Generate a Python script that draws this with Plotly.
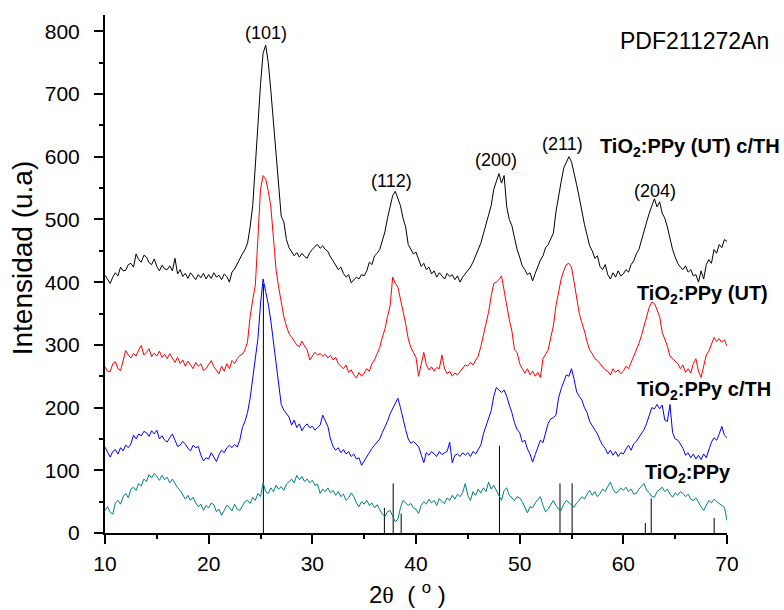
import numpy as np
import plotly.graph_objects as go

# 2-theta grid: 10 to 70 degrees in 0.25 degree steps (241 points)
two_theta = np.round(10 + 0.25 * np.arange(241), 2)

# Intensity readings, one row per 5 degrees (20 points each) plus the 70-degree point
ut_cth = (
    [411, 405, 398, 408, 415, 410, 424, 418, 419, 428, 430, 424, 445, 436, 432, 443, 440, 431, 428, 437]
    + [425, 418, 427, 421, 420, 426, 418, 438, 413, 420, 409, 414, 406, 415, 410, 404, 412, 407, 414, 405]
    + [412, 406, 415, 408, 411, 404, 413, 409, 400, 416, 421, 428, 437, 445, 452, 462, 488, 522, 580, 650]
    + [715, 765, 778, 750, 705, 655, 598, 545, 505, 496, 468, 455, 448, 442, 447, 440, 446, 441, 438, 447]
    + [452, 457, 460, 454, 458, 452, 449, 440, 434, 428, 420, 424, 414, 408, 412, 399, 404, 408, 405, 412]
    + [410, 418, 432, 428, 442, 446, 452, 465, 480, 502, 522, 538, 545, 535, 522, 502, 488, 460, 452, 445]
    + [448, 436, 425, 430, 420, 424, 413, 418, 408, 415, 410, 405, 414, 409, 412, 404, 410, 400, 408, 413]
    + [418, 424, 432, 442, 450, 462, 477, 492, 508, 522, 548, 562, 573, 558, 570, 520, 500, 490, 468, 452]
    + [440, 426, 420, 412, 415, 402, 414, 425, 435, 442, 455, 460, 470, 478, 512, 540, 560, 582, 592, 600]
    + [592, 575, 555, 535, 512, 492, 475, 458, 450, 438, 442, 425, 420, 428, 412, 405, 415, 408, 418, 410]
    + [413, 420, 416, 428, 434, 445, 452, 468, 480, 496, 510, 522, 533, 520, 528, 510, 502, 488, 468, 452]
    + [440, 430, 424, 420, 426, 416, 420, 410, 412, 400, 418, 405, 428, 436, 430, 452, 446, 460, 455, 468]
    + [465]
)

ut = (
    [265, 258, 257, 270, 273, 262, 259, 275, 291, 284, 279, 286, 282, 292, 299, 284, 288, 294, 281, 287]
    + [282, 290, 280, 285, 278, 286, 279, 272, 280, 270, 276, 266, 274, 268, 262, 272, 266, 270, 259, 262]
    + [268, 275, 265, 260, 254, 266, 258, 270, 262, 275, 270, 278, 283, 285, 292, 305, 345, 372, 395, 470]
    + [548, 570, 565, 545, 520, 470, 420, 392, 370, 345, 330, 318, 312, 305, 300, 297, 306, 298, 292, 276]
    + [282, 288, 284, 286, 282, 285, 279, 283, 276, 280, 270, 266, 262, 268, 256, 260, 252, 247, 256, 250]
    + [255, 262, 258, 270, 276, 286, 296, 312, 325, 345, 362, 408, 398, 392, 374, 355, 334, 310, 296, 288]
    + [280, 250, 270, 288, 268, 260, 265, 258, 264, 262, 284, 262, 254, 258, 250, 255, 252, 258, 264, 268]
    + [266, 272, 268, 275, 282, 297, 315, 332, 352, 378, 398, 400, 404, 410, 385, 362, 340, 322, 292, 288]
    + [270, 262, 255, 262, 252, 258, 250, 256, 248, 278, 286, 292, 312, 330, 362, 385, 405, 418, 428, 430]
    + [424, 400, 378, 350, 335, 322, 305, 292, 286, 278, 275, 270, 265, 260, 258, 252, 262, 256, 260, 254]
    + [258, 266, 262, 272, 280, 290, 302, 315, 330, 345, 360, 368, 366, 356, 345, 320, 310, 298, 282, 278]
    + [275, 270, 262, 268, 256, 262, 255, 270, 278, 258, 248, 268, 284, 290, 300, 312, 305, 310, 304, 308]
    + [298]
)

cth = (
    [137, 128, 121, 130, 133, 126, 136, 131, 140, 136, 142, 156, 150, 158, 155, 162, 160, 154, 163, 158]
    + [164, 150, 155, 148, 145, 152, 158, 148, 138, 140, 146, 142, 135, 131, 140, 136, 138, 124, 115, 120]
    + [118, 128, 122, 114, 125, 132, 128, 136, 140, 136, 141, 137, 148, 168, 178, 192, 215, 248, 272, 310]
    + [365, 405, 385, 365, 338, 305, 270, 238, 205, 196, 190, 185, 172, 180, 168, 174, 163, 170, 174, 168]
    + [170, 164, 168, 172, 188, 178, 170, 150, 138, 132, 136, 128, 133, 126, 130, 122, 126, 118, 120, 108]
    + [115, 122, 128, 135, 140, 145, 150, 160, 168, 178, 190, 198, 205, 215, 200, 180, 165, 150, 143, 146]
    + [142, 138, 125, 112, 128, 124, 130, 126, 122, 130, 125, 128, 130, 145, 112, 124, 126, 122, 128, 124]
    + [128, 122, 130, 126, 132, 140, 158, 170, 182, 195, 218, 232, 228, 224, 228, 218, 204, 192, 176, 165]
    + [160, 145, 148, 134, 126, 113, 125, 138, 148, 144, 158, 175, 182, 184, 188, 215, 230, 240, 252, 250]
    + [262, 245, 225, 218, 212, 200, 192, 178, 172, 165, 158, 148, 140, 135, 126, 132, 124, 130, 122, 128]
    + [126, 134, 140, 132, 142, 146, 152, 158, 165, 175, 186, 200, 198, 205, 198, 204, 180, 178, 205, 160]
    + [150, 148, 142, 135, 124, 128, 120, 126, 118, 124, 117, 126, 120, 132, 145, 152, 148, 158, 170, 156]
    + [152]
)

tio2_ppy = (
    [36, 42, 33, 30, 48, 52, 46, 58, 63, 56, 70, 73, 68, 79, 75, 86, 82, 93, 88, 95]
    + [90, 84, 92, 85, 89, 80, 86, 78, 72, 68, 62, 54, 60, 52, 57, 48, 42, 46, 36, 44]
    + [40, 48, 45, 34, 38, 28, 36, 44, 41, 35, 46, 38, 36, 44, 50, 52, 47, 57, 52, 63]
    + [58, 80, 66, 63, 72, 66, 76, 70, 74, 68, 78, 82, 86, 80, 92, 85, 90, 82, 86, 80]
    + [84, 76, 78, 63, 70, 66, 72, 64, 68, 60, 66, 58, 62, 52, 56, 64, 58, 48, 42, 50]
    + [46, 52, 44, 48, 40, 45, 38, 30, 26, 34, 36, 28, 18, 22, 40, 52, 48, 44, 47, 40]
    + [38, 31, 44, 50, 46, 54, 48, 52, 44, 55, 50, 47, 56, 52, 60, 54, 62, 58, 64, 79]
    + [60, 52, 66, 60, 70, 64, 72, 66, 81, 70, 76, 68, 62, 52, 68, 72, 60, 56, 52, 58]
    + [56, 50, 40, 32, 42, 40, 48, 54, 58, 44, 34, 38, 46, 52, 44, 38, 36, 46, 52, 48]
    + [44, 41, 48, 52, 58, 54, 62, 68, 60, 66, 58, 63, 70, 66, 74, 81, 70, 64, 66, 72]
    + [68, 73, 66, 70, 62, 63, 70, 74, 79, 68, 64, 58, 57, 66, 70, 73, 66, 70, 62, 57]
    + [64, 60, 66, 63, 58, 62, 54, 52, 56, 48, 42, 36, 44, 52, 48, 54, 50, 47, 44, 41]
    + [20]
)

for series in (ut_cth, ut, cth, tio2_ppy):
    assert len(series) == len(two_theta)

# Reference pattern PDF 21-1272 (anatase): line positions and plotted heights
pdf_pos = [25.28, 36.95, 37.80, 38.57, 48.05, 53.89, 55.06, 62.12, 62.69, 68.76]
pdf_height = [397, 40, 79, 31, 139, 79, 79, 16, 55, 24]

# Miller indices for the main reflections
hkl_labels = ["(101)", "(112)", "(200)", "(211)", "(204)"]
hkl_x = [25.55, 37.65, 47.75, 54.15, 63.1]
hkl_y = [797, 562, 594, 621, 546]

series_names = ["TiO<sub>2</sub>:PPy (UT) c/TH", "TiO<sub>2</sub>:PPy (UT)",
                "TiO<sub>2</sub>:PPy c/TH", "TiO<sub>2</sub>:PPy"]
series_colors = ["#000000", "#ff0000", "#0000ff", "#008080"]
name_x = [57.55, 61.1, 61.1, 61.85]
name_y = [614, 380, 228, 95]

fig = go.Figure()

# reference sticks
stick_x, stick_y = [], []
for p, h in zip(pdf_pos, pdf_height):
    stick_x += [p, p, None]
    stick_y += [0, h, None]
fig.add_trace(go.Scatter(x=stick_x, y=stick_y, mode="lines",
                         line=dict(color="black", width=1), hoverinfo="skip"))

for ys, name, color in zip([ut_cth, ut, cth, tio2_ppy], series_names, series_colors):
    fig.add_trace(go.Scatter(x=two_theta, y=ys, mode="lines", name=name,
                             line=dict(color=color, width=1)))

font_family = "Liberation Sans, Arial, sans-serif"

annotations = []
for t, x, y in zip(hkl_labels, hkl_x, hkl_y):
    annotations.append(dict(x=x, y=y, xref="x", yref="y", text=t, showarrow=False,
                            yanchor="middle",
                            font=dict(size=18, family=font_family, color="black")))
for t, x, y in zip(series_names, name_x, name_y):
    annotations.append(dict(x=x, y=y, xref="x", yref="y", text="<b>" + t + "</b>",
                            xanchor="left", yanchor="middle", showarrow=False,
                            font=dict(size=20, family=font_family, color="black")))
annotations.append(dict(x=0.948, y=0.95, xref="paper", yref="paper", text="PDF211272An",
                        xanchor="center", yanchor="middle", showarrow=False,
                        font=dict(size=23, family=font_family, color="black")))

# axis titles
annotations.append(dict(x=-0.132, y=0.532, xref="paper", yref="paper",
                        text="Intensidad (u.a)", textangle=-90, showarrow=False,
                        xanchor="center", yanchor="middle",
                        font=dict(size=28, family=font_family, color="black")))
annotations.append(dict(x=0.487, y=-0.116, xref="paper", yref="paper",
                        text="2<span style='font-family:Liberation Serif'>θ</span>  ( <sup>o</sup> )",
                        showarrow=False, xanchor="center", yanchor="middle",
                        font=dict(size=24, family=font_family, color="black")))

fig.update_layout(
    width=784, height=610,
    margin=dict(l=105, r=57, t=15, b=77),
    plot_bgcolor="white", paper_bgcolor="white",
    showlegend=False,
    font=dict(family=font_family, color="black"),
    annotations=annotations,
    xaxis=dict(
        range=[10, 70], dtick=10, tick0=10,
        ticks="outside", ticklen=9, tickwidth=1.5, tickcolor="black",
        minor=dict(ticks="outside", ticklen=4, dtick=5, tickcolor="black", tickwidth=1.5),
        showline=True, linewidth=2, linecolor="black", mirror=False,
        showgrid=False, zeroline=False, automargin=False,
        ticklabelstandoff=2,
        tickfont=dict(size=21, family=font_family),
    ),
    yaxis=dict(
        range=[0, 826], dtick=100, tick0=0,
        ticks="outside", ticklen=9, tickwidth=1.5, tickcolor="black",
        minor=dict(ticks="outside", ticklen=4, dtick=50, tickcolor="black", tickwidth=1.5),
        showline=True, linewidth=2, linecolor="black", mirror=False,
        showgrid=False, zeroline=False, automargin=False,
        ticklabelstandoff=10,
        tickfont=dict(size=21, family=font_family),
    ),
)

fig.write_html("out.html")
